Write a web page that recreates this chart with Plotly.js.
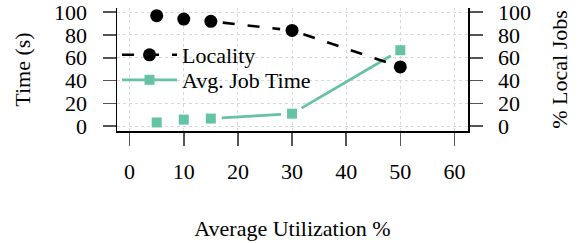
<!DOCTYPE html>
<html><head><meta charset="utf-8">
<script src="https://cdn.plot.ly/plotly-3.0.1.min.js"></script>
<style>html,body{margin:0;padding:0;background:#fff;}</style>
</head><body>
<div id="chart" style="width:578px;height:243px;"></div>
<script>
// ---- data ----
const utilization = [5, 10, 15, 30, 50];
const localityPct = [97, 94, 92, 84, 52];
const avgJobTime = [3.2, 5.7, 6.6, 10.9, 66.6];
const xTicks = [0, 10, 20, 30, 40, 50, 60];
const yTicks = [0, 20, 40, 60, 80, 100];
const seriesNames = ['Locality', 'Avg. Job Time'];

// ---- layout constants ----
const W = 578, H = 243;
const M = {l: 116.7, r: 110, t: 8, b: 112};
const xRange = [-2.33, 62.5];
const yRange = [-4.3, 103.7];
const PW = W - M.l - M.r, PH = H - M.t - M.b;
const FONT = 'Liberation Serif';
const GREEN = '#66c2a5';

// gnuplot-like gapped line segments computed from the data through the axis scales
function gapped(xs, ys, gapPx, minPx) {
  const toPx = (x, y) => [(x - xRange[0]) / (xRange[1] - xRange[0]) * PW,
                          (yRange[1] - y) / (yRange[1] - yRange[0]) * PH];
  const toData = (px, py) => [xRange[0] + px / PW * (xRange[1] - xRange[0]),
                              yRange[1] - py / PH * (yRange[1] - yRange[0])];
  const ox = [], oy = [];
  for (let i = 0; i < xs.length - 1; i++) {
    const a = toPx(xs[i], ys[i]), b = toPx(xs[i + 1], ys[i + 1]);
    const dx = b[0] - a[0], dy = b[1] - a[1];
    const len = Math.hypot(dx, dy);
    if (len - 2 * gapPx < minPx) continue;
    const ux = dx / len, uy = dy / len;
    const s = toData(a[0] + ux * gapPx, a[1] + uy * gapPx);
    const e = toData(b[0] - ux * gapPx, b[1] - uy * gapPx);
    ox.push(s[0], e[0], null); oy.push(s[1], e[1], null);
  }
  return {x: ox, y: oy};
}

const locLine = gapped(utilization, localityPct, 12, 8);
const avgLine = gapped(utilization, avgJobTime, 11, 8);

const blackLine = {color: '#000', width: 2.6, dash: '12px,13px'};
const greenLine = {color: GREEN, width: 2.8};

const traces = [
  {x: locLine.x, y: locLine.y, yaxis: 'y2', mode: 'lines', line: blackLine, showlegend: false, hoverinfo: 'skip'},
  {x: utilization, y: localityPct, yaxis: 'y2', mode: 'markers', marker: {symbol: 'circle', size: 13, color: '#000'}, showlegend: false},
  {x: avgLine.x, y: avgLine.y, mode: 'lines', line: greenLine, showlegend: false, hoverinfo: 'skip'},
  {x: utilization, y: avgJobTime, mode: 'markers', marker: {symbol: 'square', size: 10, color: GREEN}, showlegend: false},
  // legend entries
  {x: [null], y: [null], name: seriesNames[0], yaxis: 'y2', mode: 'lines+markers', line: blackLine, marker: {symbol: 'circle', size: 13, color: '#000'}, legend: 'legend'},
  {x: [null], y: [null], name: seriesNames[1], mode: 'lines+markers', line: greenLine, marker: {symbol: 'square', size: 10, color: GREEN}, legend: 'legend2'}
];

const f22 = {family: FONT, size: 22, color: '#000'};

const axBase = {
  showline: true, linecolor: '#000', linewidth: 1.5,
  ticks: 'outside', ticklen: 13, tickwidth: 1.5, tickcolor: '#555',
  zeroline: false, ticklabeloverflow: 'allow',
  tickfont: f22
};

const legendBase = {
  font: f22,
  bgcolor: 'rgba(0,0,0,0)', borderwidth: 0,
  xanchor: 'left', yanchor: 'middle', itemwidth: 55
};

const layout = {
  width: W, height: H,
  margin: M,
  paper_bgcolor: '#fff', plot_bgcolor: '#fff',
  font: f22,
  xaxis: Object.assign({}, axBase, {
    range: xRange, tickvals: xTicks, ticktext: xTicks.map(String),
    showgrid: true, gridcolor: '#d9d9d9', griddash: 'dot', gridwidth: 1,
    ticklabelstandoff: 7,
    title: {text: 'Average Utilization %', font: f22, standoff: 37}
  }),
  yaxis: Object.assign({}, axBase, {
    range: yRange, tickvals: yTicks, ticktext: yTicks.map(String),
    showgrid: true, gridcolor: '#d9d9d9', griddash: 'dot', gridwidth: 1,
    ticklabelstandoff: 11,
    title: {text: 'Time (s)', font: f22, standoff: 17}
  }),
  yaxis2: Object.assign({}, axBase, {
    range: yRange, tickvals: yTicks, ticktext: yTicks.map(String),
    overlaying: 'y', side: 'right', showgrid: false,
    ticklabelstandoff: 11,
    title: {text: '% Local Jobs', font: f22, standoff: 21}
  }),
  legend: Object.assign({}, legendBase, {x: 0, y: (H - M.b - 55) / PH}),
  legend2: Object.assign({}, legendBase, {x: 0, y: (H - M.b - 80) / PH}),
  showlegend: true
};

Plotly.newPlot('chart', traces, layout, {displayModeBar: false, staticPlot: true});
</script>
</body></html>
